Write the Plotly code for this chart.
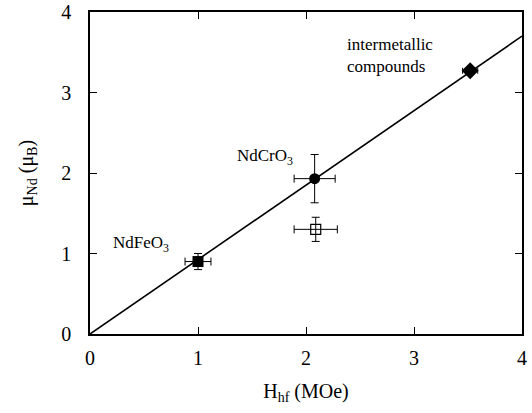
import plotly.graph_objects as go

# Hyperfine field vs. Nd moment
fe_x, fe_y, fe_xerr, fe_yerr = [1.0], [0.90], [0.12], [0.10]
cr_x, cr_y, cr_xerr, cr_yerr = [2.08], [1.93], [0.19], [0.30]
cr2_x, cr2_y, cr2_xerr, cr2_yerr = [2.09], [1.30], [0.20], [0.15]
im_x, im_y, im_xerr, im_yerr = [3.52], [3.27], [0.07], [0.03]

# Linear relation mu = k * H
slope = 0.925
line_x = [0.0, 4.0]
line_y = [slope * v for v in line_x]

FONT = "Liberation Serif"

fig = go.Figure()

fig.add_trace(go.Scatter(x=line_x, y=line_y, mode="lines",
                         line=dict(color="black", width=1.6), showlegend=False))


def err(vals, w):
    return dict(type="data", array=vals, color="black", thickness=1, width=w)


fig.add_trace(go.Scatter(x=fe_x, y=fe_y, mode="markers",
                         marker=dict(symbol="square", size=11, color="black"),
                         error_x=err(fe_xerr, 4), error_y=err(fe_yerr, 4),
                         showlegend=False))
fig.add_trace(go.Scatter(x=cr_x, y=cr_y, mode="markers",
                         marker=dict(symbol="circle", size=11, color="black"),
                         error_x=err(cr_xerr, 4), error_y=err(cr_yerr, 4),
                         showlegend=False))
fig.add_trace(go.Scatter(x=cr2_x, y=cr2_y, mode="markers",
                         marker=dict(symbol="square-open", size=10, color="black",
                                     line=dict(width=1.2)),
                         error_x=err(cr2_xerr, 4), error_y=err(cr2_yerr, 4),
                         showlegend=False))
fig.add_trace(go.Scatter(x=im_x, y=im_y, mode="markers",
                         marker=dict(symbol="diamond", size=13, color="black"),
                         error_x=err(im_xerr, 3), error_y=err(im_yerr, 3),
                         showlegend=False))

ann = dict(showarrow=False, font=dict(family=FONT, size=17, color="black"))
fig.add_annotation(x=0.47, y=1.12, text="NdFeO<sub>3</sub>", **ann)
fig.add_annotation(x=1.62, y=2.2, text="NdCrO<sub>3</sub>", **ann)
fig.add_annotation(x=2.78, y=3.46, text="intermetallic<br>compounds", align="left", **ann)

axis = dict(showline=True, mirror="allticks", linecolor="black", linewidth=1.6,
            ticks="inside", ticklen=7, tickwidth=1.4, tickcolor="black",
            showgrid=False, zeroline=False, range=[0, 4], dtick=1,
            ticklabeloverflow="allow", automargin=False,
            tickfont=dict(family=FONT, size=20, color="black"))

fig.update_layout(
    width=532, height=413,
    margin=dict(l=90, r=10, t=12, b=79),
    paper_bgcolor="white", plot_bgcolor="white",
    font=dict(family=FONT, color="black"),
    xaxis=dict(axis, ticklabelstandoff=5,
               title=dict(text="H<sub>hf</sub> (MOe)", standoff=16,
                          font=dict(family=FONT, size=20, color="black"))),
    yaxis=dict(axis, ticklabelstandoff=13,
               title=dict(text="μ<sub>Nd</sub> (μ<sub>B</sub>)", standoff=22,
                          font=dict(family=FONT, size=20, color="black"))),
)

fig.write_html("out.html")
